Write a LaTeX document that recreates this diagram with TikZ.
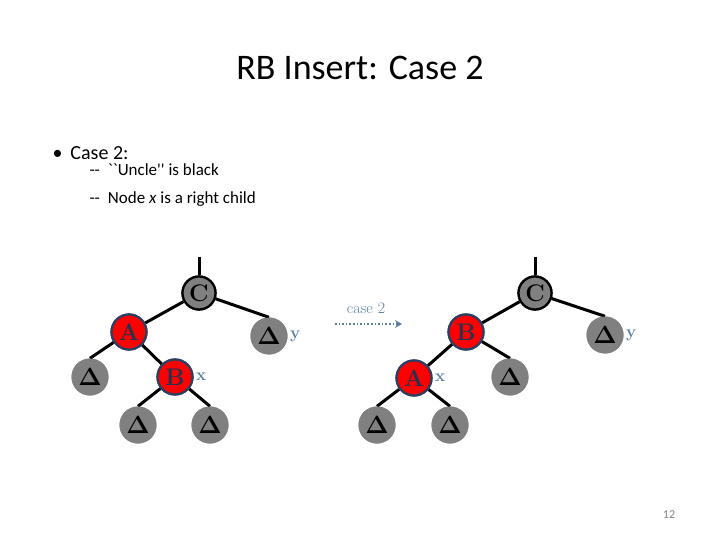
\documentclass[tikz,border=0pt]{standalone}
\usepackage{fontspec}
\usepackage{amsmath,amssymb}
\newfontfamily\slidefont{Carlito}
\usepackage{tikz}
\usetikzlibrary{arrows.meta,positioning}
\definecolor{lblue}{HTML}{5A7EA0}
\definecolor{rbord}{HTML}{2B3F63}
\definecolor{leafgray}{HTML}{808080}

\tikzset{
  blk/.style={circle, draw=black, line width=2.2pt, fill=leafgray, minimum size=33pt, inner sep=0pt, font=\fontsize{24}{24}\selectfont\rmfamily\bfseries},
  rd/.style={circle, draw=rbord, line width=2.2pt, fill=red, minimum size=35pt, inner sep=0pt, text=rbord!80!black, font=\fontsize{24}{24}\selectfont\rmfamily\bfseries},
  leaf/.style={circle, fill=leafgray, minimum size=37pt, inner sep=0pt, font=\fontsize{30}{30}\selectfont},
  edge/.style={line width=3pt},
  lbl/.style={text=lblue, font=\fontsize{17}{17}\selectfont\rmfamily\bfseries}
}

\begin{document}
\begin{tikzpicture}[x=1pt,y=-1pt]
\useasboundingbox (0,0) rectangle (720,540);

\node [font=\slidefont\fontsize{36}{36}\selectfont] (title) at (360,68) {RB Insert: Case 2};
\node [font=\slidefont\fontsize{20}{20}\selectfont, anchor=west] (b1) at (49,153) {\textbullet\hspace{8pt}Case 2:};
\node [font=\slidefont\fontsize{17}{17}\selectfont, anchor=west] (b2) at (86,170) {--\hspace{8pt}``Uncle'' is black};
\node [font=\slidefont\fontsize{17}{17}\selectfont, anchor=west] (b3) at (86,199) {--\hspace{8pt}Node \textit{x} is a right child};

% left tree
\node [blk] (C1) at (199,293) {C};
\node [rd] (A1) at (129,332) {A};
\node [leaf] (y1) at (269,336) {$\boldsymbol{\Delta}$};
\node [leaf] (l1) at (90,377) {$\boldsymbol{\Delta}$};
\node [rd] (B1) at (175,377) {B};
\node [leaf] (l2) at (138,425) {$\boldsymbol{\Delta}$};
\node [leaf] (l3) at (210,425) {$\boldsymbol{\Delta}$};
\coordinate (top1) at (199,257);
\draw [edge] (top1) -- (C1);
\draw [edge] (C1) -- (A1);
\draw [edge] (C1) -- (y1.north);
\draw [edge] (A1) -- (l1.north);
\draw [edge] (A1) -- (B1);
\draw [edge] (B1) -- (l2.north);
\draw [edge] (B1) -- (l3.north);
\node [lbl, right=-1pt of y1] (ly1) {y};
\node [lbl, right=-1pt of B1] (lx1) {x};

% arrow
\node [text=lblue, font=\fontsize{16}{16}\selectfont\rmfamily] (cs) at (366,308) {case 2};
\coordinate (arS) at (335,324);
\coordinate (arE) at (402,324);
\draw [lblue, line width=1.6pt, dotted, -{Stealth[length=7pt,width=8pt]}] (arS) -- (arE);

% right tree
\node [blk] (C2) at (535,293) {C};
\node [rd] (B2) at (466,332) {B};
\node [leaf] (y2) at (605,335) {$\boldsymbol{\Delta}$};
\node [rd] (A2) at (414,378) {A};
\node [leaf] (r1) at (510,377) {$\boldsymbol{\Delta}$};
\node [leaf] (r2) at (377,425) {$\boldsymbol{\Delta}$};
\node [leaf] (r3) at (450,425) {$\boldsymbol{\Delta}$};
\coordinate (top2) at (535,257);
\draw [edge] (top2) -- (C2);
\draw [edge] (C2) -- (B2);
\draw [edge] (C2) -- (y2.north);
\draw [edge] (B2) -- (A2);
\draw [edge] (B2) -- (r1.north);
\draw [edge] (A2) -- (r2.north);
\draw [edge] (A2) -- (r3.north);
\node [lbl, right=-1pt of y2] (ly2) {y};
\node [lbl, right=-1pt of A2] (lx2) {x};

% redraw nodes over edges
\foreach \n/\s/\t in {C1/blk/C, A1/rd/A, B1/rd/B, C2/blk/C, B2/rd/B, A2/rd/A}
  \node [\s] at (\n) {\t};
\foreach \n in {y1,l1,l2,l3,y2,r1,r2,r3}
  \node [leaf] at (\n) {$\boldsymbol{\Delta}$};

\node [text=gray, font=\slidefont\fontsize{12}{12}\selectfont] (pg) at (669,515) {12};
\end{tikzpicture}
\end{document}
